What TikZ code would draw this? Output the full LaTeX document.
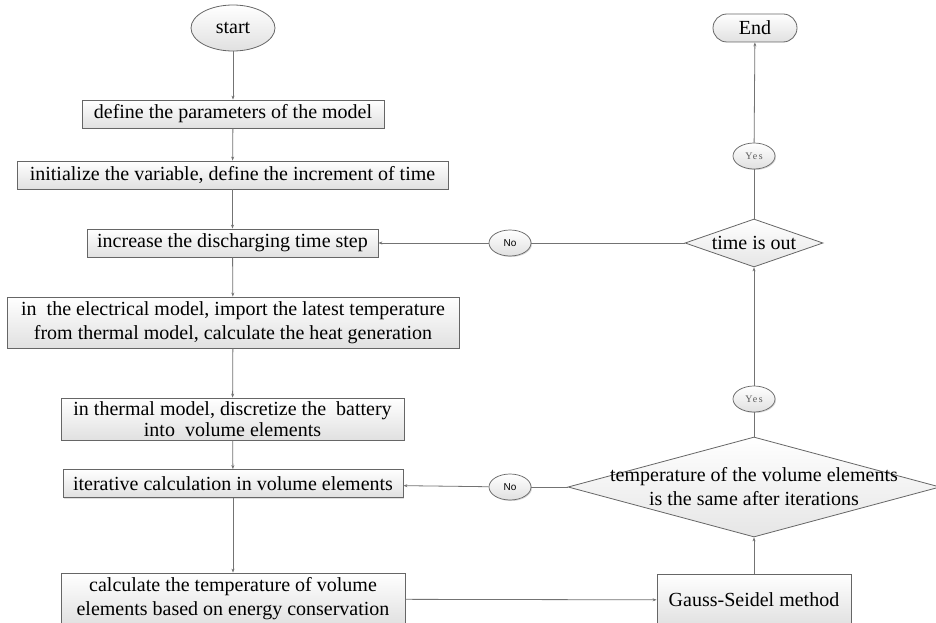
\documentclass[tikz,border=0pt]{standalone}
\usepackage{fontspec}
\setmainfont{Liberation Serif}
\newfontfamily\yesfont[LetterSpace=14]{Liberation Serif}
\newfontfamily\nofont{Liberation Sans}
\usetikzlibrary{shapes.geometric,arrows.meta,shadows}
\tikzset{
  edgecol/.style={draw=black!55, line width=0.8pt},
  flowbox/.style={rectangle, draw=black!60, line width=0.8pt, top color=white, bottom color=black!12,
    drop shadow={opacity=0.25, shadow xshift=1.2pt, shadow yshift=-1.2pt},
    font=\fontsize{20}{24}\selectfont, align=center, inner sep=0pt, minimum height=28pt},
  oval/.style={ellipse, draw=black!60, line width=0.8pt, top color=white, bottom color=black!12,
    inner sep=0pt, font=\fontsize{20}{24}\selectfont},
  tag/.style={ellipse, draw=black!60, line width=0.7pt, top color=white, bottom color=black!12,
    drop shadow={opacity=0.3, shadow xshift=1pt, shadow yshift=-1pt},
    inner sep=0pt, minimum width=42pt, minimum height=26pt},
  decision/.style={diamond, draw=black!60, line width=0.8pt, top color=white, bottom color=black!10,
    inner sep=0pt},
  dtext/.style={font=\fontsize{20}{24}\selectfont, align=center, inner sep=0pt},
  flow/.style={edgecol, -{Stealth[length=4pt,width=3pt]}},
  link/.style={edgecol},
}
\begin{document}
\begin{tikzpicture}[x=1pt,y=1pt]
\useasboundingbox[fill=white] (0,0) rectangle (936,-623);

% left column
\node[oval, minimum width=84pt, minimum height=46pt] (start) at (233,-28) {start};
\node[flowbox, minimum width=302pt] (b1) at (233,-114) {define the parameters of the model};
\node[flowbox, minimum width=431pt] (b2) at (232.5,-175) {initialize the variable, define the increment of time};
\node[flowbox, minimum width=291pt] (b3) at (232.5,-243) {increase the discharging time step};
\node[flowbox, minimum width=452pt, minimum height=51pt] (b4) at (233,-322.5)
  {in\ \ the electrical model, import the latest temperature\\from thermal model, calculate the heat generation};
\node[flowbox, minimum width=343pt, minimum height=42pt, font=\fontsize{20}{21}\selectfont] (b5) at (232.5,-419)
  {in thermal model, discretize the\ \ battery\\into\ \ volume elements};
\node[flowbox, minimum width=340pt] (b6) at (233,-483.5) {iterative calculation in volume elements};
\node[flowbox, minimum width=344pt, minimum height=52pt] (b7) at (233,-599)
  {calculate the temperature of volume\\elements based on energy conservation};

% right column
\node[rectangle, rounded corners=14pt, draw=black!60, line width=0.8pt, top color=white, bottom color=black!12,
  font=\fontsize{20}{24}\selectfont, minimum width=84pt, minimum height=28pt, inner sep=0pt] (end) at (755,-28) {End};
\node[tag] (yes1) at (754,-156) {\yesfont\fontsize{10}{12}\selectfont\color{black!65}Yes};
\node[decision, minimum width=138pt, minimum height=48pt] (d1) at (754,-243) {};
\node[dtext] (d1t) at (d1.center) {time is out};
\node[tag] (no1) at (510,-243) {\nofont\fontsize{10}{12}\selectfont No};
\node[tag] (yes2) at (754,-399) {\yesfont\fontsize{10}{12}\selectfont\color{black!65}Yes};
\node[decision, minimum width=372pt, minimum height=100pt] (d2) at (754,-487) {};
\node[dtext] (d2t) at (d2.center) {temperature of the volume elements\\is the same after iterations};
\node[tag] (no2) at (510,-487) {\nofont\fontsize{10}{12}\selectfont No};
\node[flowbox, minimum width=194pt, minimum height=52pt] (gs) at (754,-600) {Gauss-Seidel method};

% main flow
\draw[flow] (start) -- (b1);
\draw[flow] (b1) -- (b2);
\draw[flow] (b2) -- (b3);
\draw[flow] (b3) -- (b4);
\draw[flow] (b4) -- (b5);
\draw[flow] (b5) -- (b6);
\draw[flow] (b6) -- (b7);
\draw[flow] (b7) -- (gs);

% right loop
\draw[flow] (gs) -- (d2);
\draw[link] (d2) -- (no2);
\draw[flow] (no2) -- (b6);
\draw[link] (d2) -- (yes2);
\draw[flow] (yes2) -- (d1);
\draw[link] (d1) -- (no1);
\draw[flow] (no1) -- (b3);
\draw[link] (d1) -- (yes1);
\draw[flow] (yes1) -- (end);
\end{tikzpicture}
\end{document}
